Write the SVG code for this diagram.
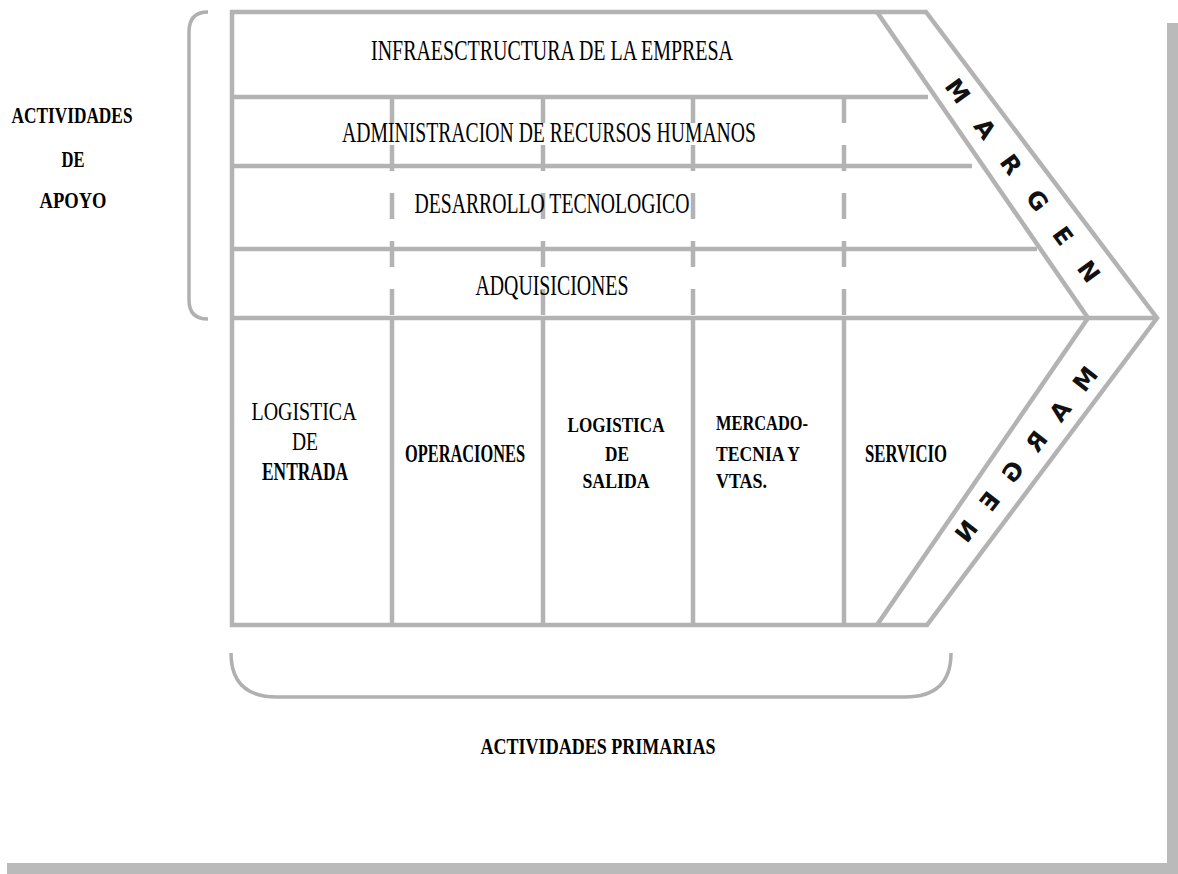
<svg xmlns="http://www.w3.org/2000/svg" width="1178" height="874" viewBox="0 0 1178 874">
<style>
.ln{fill:none;stroke:#b3b3b3;stroke-width:4.5;stroke-linejoin:miter}
.dash{fill:none;stroke:#b3b3b3;stroke-width:4.5;stroke-dasharray:26 22}
.br{fill:none;stroke:#b0b0b0;stroke-width:3.5}
.t{font-family:"Liberation Serif","DejaVu Serif",serif;fill:#000;text-anchor:middle}
.up{font-size:29px}
.col{font-size:25px}
.sm{font-size:22px}
.b{font-weight:bold}
.lab{font-family:"Liberation Serif","DejaVu Serif",serif;font-weight:bold;font-size:23px;fill:#000;text-anchor:middle}
.mg{font-family:"DejaVu Sans","Liberation Sans",sans-serif;font-weight:bold;font-size:24px;fill:#111;text-anchor:middle}
.bar{fill:#bababa}
</style>
<rect width="1178" height="874" fill="#fff"/>
<g id="shadow-bars">
<rect class="bar" x="1167" y="23" width="11" height="851"/>
<rect class="bar" x="7" y="863" width="1171" height="11"/>
</g>
<g id="connectors">
<path class="ln" d="M232,12 H926 L1157,318 L927,625 H232 Z"/>
<path class="ln" d="M877,12 L1088,318 L877,625"/>
<path class="ln" d="M232,97 H928 M232,166 H972 M232,249 H1037 M232,318 H1157"/>
<path class="ln" d="M392,318 V625 M543,318 V625 M693,318 V625 M844,318 V625"/>
<path class="dash" d="M392,97 V318 M543,97 V318 M693,97 V318 M844,97 V318"/>
<path class="br" d="M208,12 Q189,12 189,32 V300 Q189,319 208,319"/>
<path class="br" d="M231,653 Q231,697 277,697 H905 Q951,697 951,653"/>
</g>
<g id="support-label">
<text class="lab" x="72" y="123" textLength="121" lengthAdjust="spacingAndGlyphs">ACTIVIDADES</text>
<text class="lab" x="73" y="167" textLength="23" lengthAdjust="spacingAndGlyphs">DE</text>
<text class="lab" x="73" y="208" textLength="67" lengthAdjust="spacingAndGlyphs">APOYO</text>
</g>
<g id="infraestructura"><text class="t up" x="552" y="60" textLength="362" lengthAdjust="spacingAndGlyphs">INFRAESCTRUCTURA DE LA EMPRESA</text></g>
<g id="rrhh"><text class="t up" x="549" y="142" textLength="414" lengthAdjust="spacingAndGlyphs">ADMINISTRACION DE RECURSOS HUMANOS</text></g>
<g id="tecnologia"><text class="t up" x="552" y="213" textLength="275" lengthAdjust="spacingAndGlyphs">DESARROLLO TECNOLOGICO</text></g>
<g id="adquisiciones"><text class="t up" x="552" y="295" textLength="153" lengthAdjust="spacingAndGlyphs">ADQUISICIONES</text></g>
<g id="logistica-entrada">
<text class="t col" x="304" y="420" textLength="105" lengthAdjust="spacingAndGlyphs">LOGISTICA</text>
<text class="t col" x="305" y="450" textLength="26" lengthAdjust="spacingAndGlyphs">DE</text>
<text class="t col b" x="305" y="480" textLength="86" lengthAdjust="spacingAndGlyphs">ENTRADA</text>
</g>
<g id="operaciones"><text class="t col b" x="465" y="462" textLength="120" lengthAdjust="spacingAndGlyphs">OPERACIONES</text></g>
<g id="logistica-salida">
<text class="t sm b" x="616" y="432" textLength="97" lengthAdjust="spacingAndGlyphs">LOGISTICA</text>
<text class="t sm b" x="617" y="461" textLength="24" lengthAdjust="spacingAndGlyphs">DE</text>
<text class="t sm b" x="616" y="488" textLength="67" lengthAdjust="spacingAndGlyphs">SALIDA</text>
</g>
<g id="mercadotecnia">
<text class="t sm b" x="762" y="430" textLength="92" lengthAdjust="spacingAndGlyphs">MERCADO-</text>
<text class="t sm b" x="758" y="461" textLength="84" lengthAdjust="spacingAndGlyphs">TECNIA Y</text>
<text class="t sm b" x="741.5" y="488" textLength="51" lengthAdjust="spacingAndGlyphs">VTAS.</text>
</g>
<g id="servicio"><text class="t col b" x="906" y="462" textLength="82" lengthAdjust="spacingAndGlyphs">SERVICIO</text></g>
<g id="margen-superior"><text class="mg" transform="translate(1023,180) rotate(54)" y="9" textLength="245" lengthAdjust="spacing">MARGEN</text></g>
<g id="margen-inferior"><text class="mg" transform="translate(1026,454) scale(-1,1) rotate(52)" y="9" textLength="215" lengthAdjust="spacing">MARGEN</text></g>
<g id="primary-label"><text class="lab" x="598" y="754" textLength="235" lengthAdjust="spacingAndGlyphs">ACTIVIDADES PRIMARIAS</text></g>
</svg>
